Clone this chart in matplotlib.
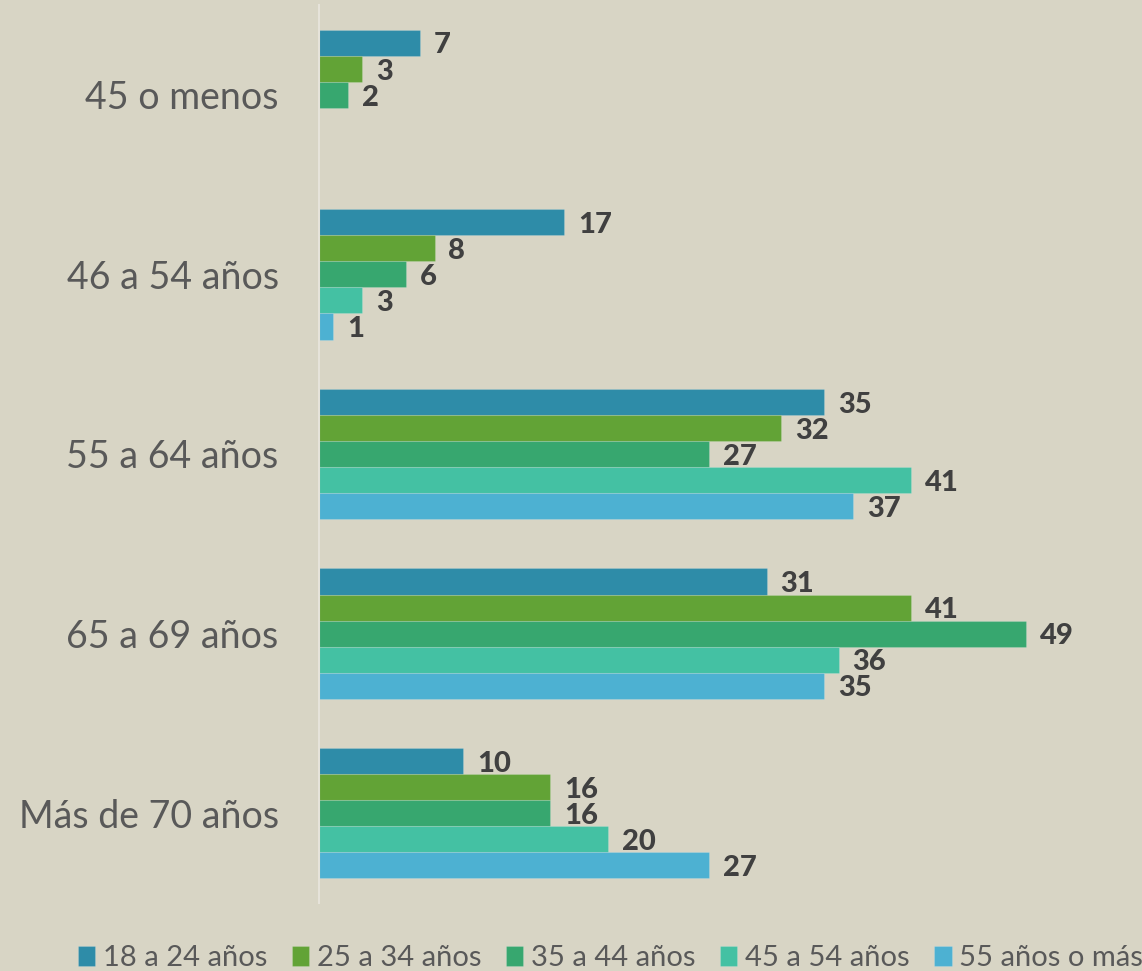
import matplotlib
matplotlib.use("Agg")
import matplotlib.pyplot as plt
import numpy as np

categories = ["45 o menos", "46 a 54 años", "55 a 64 años", "65 a 69 años", "Más de 70 años"]
series_names = ["18 a 24 años", "25 a 34 años", "35 a 44 años", "45 a 54 años", "55 años o más"]
s18_24 = [7, 17, 35, 31, 10]
s25_34 = [3, 8, 32, 41, 16]
s35_44 = [2, 6, 27, 49, 16]
s45_54 = [None, 3, 41, 36, 20]
s55_plus = [None, 1, 37, 35, 27]
series_values = [s18_24, s25_34, s35_44, s45_54, s55_plus]
colors = ["#2E8CA8", "#62A336", "#37A76F", "#44C1A3", "#4DB1D2"]

bg = "#D8D5C5"
plt.rcParams['font.family'] = ['Lato', 'DejaVu Sans']

fig = plt.figure(figsize=(11.42, 9.71), dpi=100, facecolor=bg)
ax = fig.add_axes([319/1142, 1-903/971, 1-319/1142, (903-5)/971])
ax.set_facecolor(bg)

n = len(series_values)
bh = 0.145
y = np.arange(len(categories))
for i, (name, vals, c) in enumerate(zip(series_names, series_values, colors)):
    offs = (i - (n - 1) / 2) * bh
    ys = [yy + offs for yy, v in zip(y, vals) if v is not None]
    vs = [v for v in vals if v is not None]
    bars = ax.barh(ys, vs, height=bh, color=c, label=name,
                   edgecolor=(1, 1, 1, 0.15), linewidth=0.8)
    for b, v in zip(bars, vs):
        ax.annotate(str(v), (b.get_width(), b.get_y() + b.get_height() / 2),
                    xytext=(10, -2), textcoords="offset points",
                    ha="left", va="center", fontsize=21, fontweight="black",
                    color="#404040")

ax.set_xlim(0, 57)
ax.set_ylim(len(categories) - 0.5, -0.5)
ax.set_yticks(y)
ax.set_yticklabels(categories, fontsize=27, color="#595959")
ax.tick_params(axis="y", length=0, pad=29)
ax.set_xticks([])
for s in ["top", "right", "bottom"]:
    ax.spines[s].set_visible(False)
ax.spines["left"].set_color("#E6E3DA")
ax.spines["left"].set_linewidth(1.5)

leg = fig.legend(loc="lower right", bbox_to_anchor=(1.016, -0.018), ncol=5,
                 frameon=False, fontsize=21, handlelength=0.6, handleheight=0.7,
                 handletextpad=0.25, columnspacing=0.85, labelcolor="#595959",
                 borderaxespad=0.2)

fig.savefig("out.png", dpi=100, facecolor=bg)
